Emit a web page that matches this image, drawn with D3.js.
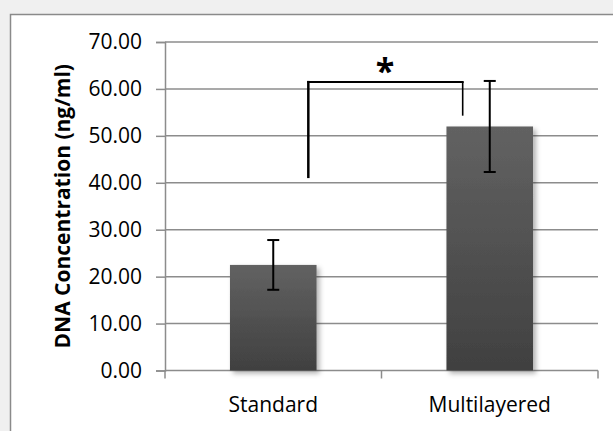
<!DOCTYPE html>
<html lang="en">
<head>
<meta charset="utf-8">
<title>DNA Concentration</title>
<script src="https://d3js.org/d3.v7.min.js"></script>
<style>
  html, body { margin: 0; padding: 0; background: #f0f0f0; }
  svg { display: block; }
  .tick text { font-family: "Open Sans", sans-serif; fill: #000; }
</style>
</head>
<body>
<div id="chart"></div>
<script>
// data
const categories = ["Standard", "Multilayered"]
const means = [22.5, 52.0]
const errors = [5.3, 9.7]
const yTicks = [0, 10, 20, 30, 40, 50, 60, 70]
const yLabel = "DNA Concentration (ng/ml)"

// significance bracket, x in category units (0..2), y in data units
const bracketX = [0.662, 1.375]
const bracketY = [41, 61.5, 54.3]
const starAt = [1.016, 64.0]

const width = 613
const height = 431
const margins = { top: 42, right: 15, bottom: 60.5, left: 165 }
const inner = {
  width: width - margins.left - margins.right,
  height: height - margins.top - margins.bottom
}

const svg = d3.select("#chart").append("svg")
  .attr("width", width)
  .attr("height", height)

// chart frame, runs off the right and bottom edges
svg.append("rect")
  .attr("x", 10.5).attr("y", 14.5)
  .attr("width", 700).attr("height", 500)
  .attr("fill", "#fff")
  .attr("stroke", "#8a8a8a")
  .attr("stroke-width", 1.5)

const defs = svg.append("defs")
const grad = defs.append("linearGradient")
  .attr("id", "barFill")
  .attr("x1", 0).attr("y1", 0).attr("x2", 0).attr("y2", 1)
grad.append("stop").attr("offset", "0%").attr("stop-color", "#626262")
grad.append("stop").attr("offset", "100%").attr("stop-color", "#404040")

const shadow = defs.append("filter")
  .attr("id", "shadow")
  .attr("x", "-10%").attr("y", "-10%")
  .attr("width", "130%").attr("height", "130%")
shadow.append("feDropShadow")
  .attr("dx", 3).attr("dy", 3)
  .attr("stdDeviation", 2.5)
  .attr("flood-color", "#000")
  .attr("flood-opacity", 0.3)

const g = svg.append("g")
  .attr("transform", `translate(${margins.left},${margins.top})`)

const x = d3.scaleBand()
  .domain(categories)
  .range([0, inner.width])
  .paddingInner(0.6)
  .paddingOuter(0.3)

// same horizontal extent, in category units, for the annotation
const xc = d3.scaleLinear().domain([0, categories.length]).range([0, inner.width])

const y = d3.scaleLinear().domain([0, 70]).range([inner.height, 0])

// gridlines
g.append("g")
  .selectAll("line")
  .data(yTicks.slice(1))
  .join("line")
  .attr("x1", 0).attr("x2", inner.width)
  .attr("y1", d => y(d)).attr("y2", d => y(d))
  .attr("stroke", "#8c8c8c")
  .attr("stroke-width", 1.5)

// y axis
const yAxis = g.append("g")
  .call(d3.axisLeft(y).tickValues(yTicks).tickFormat(d3.format(".2f")).tickSize(9).tickPadding(14))
yAxis.selectAll("line, path").attr("stroke", "#8c8c8c").attr("stroke-width", 1.5)
yAxis.selectAll("text").style("font-size", "21px")

// x axis with ticks at category boundaries
const xAxis = g.append("g")
  .attr("transform", `translate(0,${inner.height})`)
xAxis.append("line")
  .attr("x1", 0).attr("x2", inner.width)
  .attr("stroke", "#8c8c8c").attr("stroke-width", 1.5)
xAxis.selectAll("line.tk")
  .data(d3.range(categories.length + 1))
  .join("line")
  .attr("class", "tk")
  .attr("x1", d => xc(d)).attr("x2", d => xc(d))
  .attr("y1", 0).attr("y2", 8)
  .attr("stroke", "#8c8c8c").attr("stroke-width", 1.5)
xAxis.selectAll("text")
  .data(categories)
  .join("text")
  .attr("x", d => x(d) + x.bandwidth() / 2)
  .attr("y", 41.5)
  .attr("text-anchor", "middle")
  .style("font-family", "Open Sans, sans-serif")
  .style("font-size", "21px")
  .text(d => d)

// bars
g.selectAll("rect.bar")
  .data(categories)
  .join("rect")
  .attr("class", "bar")
  .attr("x", d => x(d))
  .attr("width", x.bandwidth())
  .attr("y", (d, i) => y(means[i]))
  .attr("height", (d, i) => y(0) - y(means[i]))
  .attr("fill", "url(#barFill)")
  .attr("filter", "url(#shadow)")

// error bars
const capW = 12
const eb = g.selectAll("g.err")
  .data(categories)
  .join("g")
  .attr("class", "err")
  .attr("stroke", "#000")
  .attr("stroke-width", 2)
eb.append("line")
  .attr("x1", d => x(d) + x.bandwidth() / 2).attr("x2", d => x(d) + x.bandwidth() / 2)
  .attr("y1", (d, i) => y(means[i] + errors[i]))
  .attr("y2", (d, i) => y(means[i] - errors[i]))
eb.append("line")
  .attr("x1", d => x(d) + x.bandwidth() / 2 - capW / 2).attr("x2", d => x(d) + x.bandwidth() / 2 + capW / 2)
  .attr("y1", (d, i) => y(means[i] + errors[i]))
  .attr("y2", (d, i) => y(means[i] + errors[i]))
eb.append("line")
  .attr("x1", d => x(d) + x.bandwidth() / 2 - capW / 2).attr("x2", d => x(d) + x.bandwidth() / 2 + capW / 2)
  .attr("y1", (d, i) => y(means[i] - errors[i]))
  .attr("y2", (d, i) => y(means[i] - errors[i]))

// significance bracket
g.append("line")
  .attr("x1", xc(bracketX[0])).attr("x2", xc(bracketX[0]))
  .attr("y1", y(bracketY[0])).attr("y2", y(bracketY[1]) - 1)
  .attr("stroke", "#000").attr("stroke-width", 2.5)
g.append("line")
  .attr("x1", xc(bracketX[0]) - 1).attr("x2", xc(bracketX[1]) + 1)
  .attr("y1", y(bracketY[1])).attr("y2", y(bracketY[1]))
  .attr("stroke", "#000").attr("stroke-width", 2)
g.append("line")
  .attr("x1", xc(bracketX[1])).attr("x2", xc(bracketX[1]))
  .attr("y1", y(bracketY[1])).attr("y2", y(bracketY[2]))
  .attr("stroke", "#000").attr("stroke-width", 1.6)
g.append("text")
  .attr("x", xc(starAt[0]))
  .attr("y", y(starAt[1]))
  .attr("text-anchor", "middle")
  .attr("dominant-baseline", "central")
  .style("font-family", "Open Sans, sans-serif")
  .style("font-weight", "bold")
  .style("font-size", "34px")
  .text("*")

// y axis title
svg.append("text")
  .attr("transform", `translate(70,${margins.top + inner.height / 2}) rotate(-90)`)
  .attr("text-anchor", "middle")
  .style("font-family", "Open Sans, sans-serif")
  .style("font-weight", "bold")
  .style("font-size", "21px")
  .text(yLabel)
</script>
</body>
</html>
